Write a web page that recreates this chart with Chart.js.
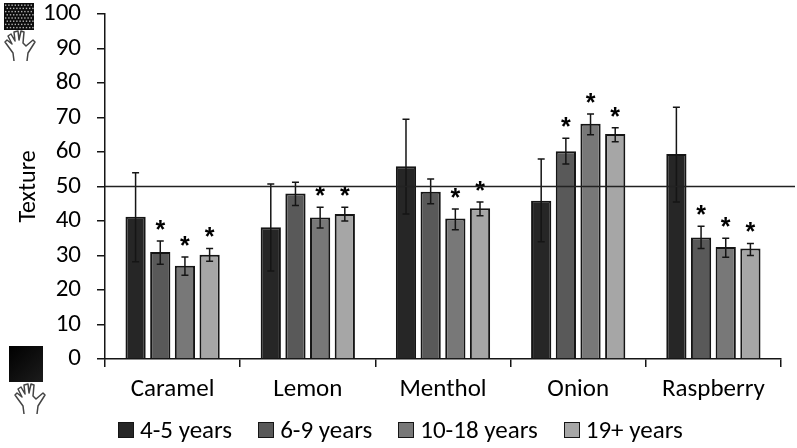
<!DOCTYPE html>
<html>
<head>
<meta charset="utf-8">
<script src="https://cdn.jsdelivr.net/npm/chart.js@4/dist/chart.umd.min.js"></script>
<style>
  html, body { margin: 0; padding: 0; background: #fff; }
  #wrap { position: relative; width: 797px; height: 448px; overflow: hidden; }
  #legend {
    position: absolute; left: 118px; top: 415px; display: flex; white-space: nowrap;
    font: 25px Calibri, Carlito, "Open Sans", "Liberation Sans", sans-serif; color: #000; line-height: 30px;
  }
  #legend .item { display: flex; align-items: center; margin-right: 26px; }
  #legend .box { width: 14px; height: 14px; border: 1px solid #151515; margin-right: 6px; }
</style>
</head>
<body>
<div id="wrap">
  <canvas id="chart" width="797" height="448"></canvas>
  <div id="legend"></div>
</div>
<script>
const categories = ['Caramel', 'Lemon', 'Menthol', 'Onion', 'Raspberry']
const seriesNames = ['4-5 years', '6-9 years', '10-18 years', '19+ years']
const yTicks = [0, 10, 20, 30, 40, 50, 60, 70, 80, 90, 100]

const age4to5 = [41.2, 38.2, 55.9, 45.9, 59.4]
const age6to9 = [31, 48, 48.5, 60.2, 35.2]
const age10to18 = [27, 41, 40.7, 68.2, 32.5]
const age19plus = [30.2, 42, 43.7, 65.2, 32]

const age4to5Low = [28.2, 25.5, 42, 34, 45.5]
const age4to5High = [54, 50.7, 69.5, 58, 73]
const age6to9Low = [27.5, 44.5, 45, 56.5, 32]
const age6to9High = [34.2, 51.2, 52.2, 64, 38.5]
const age10to18Low = [24.3, 38, 37.5, 65, 29.5]
const age10to18High = [29.6, 44, 43.5, 71, 35]
const age19plusLow = [28.3, 40, 41.5, 63, 30]
const age19plusHigh = [32, 44, 45.5, 67, 33.5]

// 1 = significant, gets a star over the error bar
const age4to5Star = [0, 0, 0, 0, 0]
const age6to9Star = [1, 0, 0, 1, 1]
const age10to18Star = [1, 1, 1, 1, 1]
const age19plusStar = [1, 1, 1, 1, 1]

const referenceLine = 50

const colors = ['#262626', '#595959', '#787878', '#a6a6a6']
const ink = '#151515'
const font = 'Calibri, Carlito, "Open Sans", "Liberation Sans", sans-serif'

const lows = [age4to5Low, age6to9Low, age10to18Low, age19plusLow]
const highs = [age4to5High, age6to9High, age10to18High, age19plusHigh]
const stars = [age4to5Star, age6to9Star, age10to18Star, age19plusStar]

// error bars and stars, placed from the chart's own scales
const errorBars = {
  id: 'errorBars',
  afterDatasetsDraw(chart) {
    const { ctx, scales: { y } } = chart
    ctx.save()
    ctx.strokeStyle = ink
    ctx.lineWidth = 1.5
    chart.data.datasets.forEach((ds, i) => {
      chart.getDatasetMeta(i).data.forEach((bar, j) => {
        const yLow = y.getPixelForValue(lows[i][j])
        const yHigh = y.getPixelForValue(highs[i][j])
        ctx.beginPath()
        ctx.moveTo(bar.x, yLow)
        ctx.lineTo(bar.x, yHigh)
        ctx.moveTo(bar.x - 3.5, yLow)
        ctx.lineTo(bar.x + 3.5, yLow)
        ctx.moveTo(bar.x - 3.5, yHigh)
        ctx.lineTo(bar.x + 3.5, yHigh)
        ctx.stroke()
        if (stars[i][j]) {
          ctx.fillStyle = '#000'
          ctx.font = 'bold 25px "Liberation Sans", sans-serif'
          ctx.textAlign = 'center'
          ctx.textBaseline = 'middle'
          ctx.fillText('*', bar.x, yHigh - 10)
        }
      })
    })
    ctx.restore()
  },
}

const refLine = {
  id: 'refLine',
  afterDatasetsDraw(chart) {
    const { ctx, scales: { x, y } } = chart
    const py = y.getPixelForValue(referenceLine)
    ctx.save()
    ctx.strokeStyle = '#222'
    ctx.lineWidth = 1.5
    ctx.beginPath()
    ctx.moveTo(x.left, py)
    ctx.lineTo(chart.width - 2, py)
    ctx.stroke()
    ctx.restore()
  },
}

function drawHand(ctx, ox, oy) {
  ctx.save()
  ctx.translate(ox, oy)
  ctx.strokeStyle = '#444'
  ctx.lineWidth = 1.5
  ctx.lineJoin = 'round'
  ctx.beginPath()
  ctx.moveTo(10, 31)
  ctx.lineTo(9, 23)
  ctx.lineTo(1, 12)
  ctx.lineTo(3, 10)
  ctx.lineTo(8, 14)
  ctx.lineTo(4, 6)
  ctx.lineTo(7, 4)
  ctx.lineTo(11, 11)
  ctx.lineTo(10, 2)
  ctx.lineTo(14, 1)
  ctx.lineTo(15, 10)
  ctx.lineTo(17, 1)
  ctx.lineTo(20, 2)
  ctx.lineTo(19, 13)
  ctx.lineTo(22, 16)
  ctx.lineTo(29, 10)
  ctx.lineTo(31, 12)
  ctx.lineTo(24, 23)
  ctx.lineTo(23, 31)
  ctx.stroke()
  ctx.restore()
}

// texture swatches to the left of the value axis
const swatches = {
  id: 'swatches',
  afterDraw(chart) {
    const { ctx } = chart
    ctx.save()
    ctx.fillStyle = '#0c0c0c'
    ctx.fillRect(4, 3, 30, 27)
    ctx.fillStyle = '#b4b4b4'
    for (let r = 0; r < 8; r++) {
      for (let c = 0; c < 9; c++) {
        ctx.fillRect(5 + c * 3.2 + (r % 2) * 1.6, 4.5 + r * 3.2, 1.4, 1.4)
      }
    }
    const g = ctx.createLinearGradient(9, 346, 43, 382)
    g.addColorStop(0, '#000')
    g.addColorStop(1, '#1c1c1c')
    ctx.fillStyle = g
    ctx.fillRect(9, 346, 34, 36)
    ctx.restore()
    drawHand(ctx, 4, 30)
    drawHand(ctx, 14, 383)
  },
}

const datasetSeries = [age4to5, age6to9, age10to18, age19plus]

new Chart(document.getElementById('chart'), {
  type: 'bar',
  data: {
    labels: categories,
    datasets: seriesNames.map((label, i) => ({
      label,
      data: datasetSeries[i],
      backgroundColor: colors[i],
      borderColor: ink,
      borderWidth: 2,
      categoryPercentage: 0.73,
      barPercentage: 0.82,
    })),
  },
  options: {
    responsive: false,
    animation: false,
    layout: { autoPadding: false, padding: { left: 15, right: 16, top: 14, bottom: 29 } },
    plugins: {
      legend: { display: false },
      tooltip: { enabled: false },
    },
    scales: {
      x: {
        afterFit(scale) {
          scale.height = 60
        },
        grid: { display: true, drawOnChartArea: false, color: ink, lineWidth: 1.5, tickLength: 8, offset: true },
        border: { color: ink, width: 1.5 },
        ticks: { color: '#000', font: { family: font, size: 25 }, padding: 8, maxRotation: 0, autoSkip: false },
      },
      y: {
        min: 0,
        max: 100,
        afterBuildTicks(scale) {
          scale.ticks = yTicks.map(value => ({ value }))
        },
        afterFit(scale) {
          scale.width = 90
          // tick padding counts towards the top margin otherwise
          scale.paddingTop = 0
          scale.paddingBottom = 0
        },
        grid: { display: true, drawOnChartArea: false, color: ink, lineWidth: 1.5, tickLength: 8 },
        border: { color: ink, width: 1.5 },
        title: { display: true, text: 'Texture', color: '#000', font: { family: font, size: 24 }, padding: 0 },
        ticks: { color: '#000', font: { family: font, size: 25, lineHeight: 1 }, padding: 16 },
      },
    },
  },
  plugins: [errorBars, refLine, swatches],
})

const legendEl = document.getElementById('legend')
seriesNames.forEach((name, i) => {
  const item = document.createElement('div')
  item.className = 'item'
  const box = document.createElement('span')
  box.className = 'box'
  box.style.background = colors[i]
  const text = document.createElement('span')
  text.textContent = name
  item.append(box, text)
  legendEl.append(item)
})
</script>
</body>
</html>
